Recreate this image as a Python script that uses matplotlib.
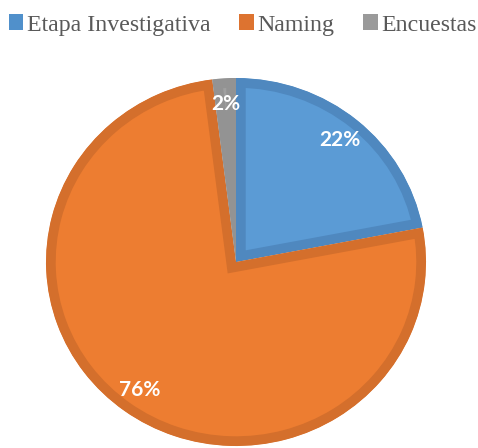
"""
Pie chart: distribución de tiempo por etapa (Etapa Investigativa / Naming / Encuestas).
"""
import matplotlib
matplotlib.use("Agg")
import matplotlib.pyplot as plt
from matplotlib.patches import Patch

# --- data ---
categories = ["Etapa Investigativa", "Naming", "Encuestas"]
shares = [22, 76, 2]

fill_colors = ["#5B9BD5", "#ED7D31", "#A0A0A0"]
edge_colors = ["#4F88BF", "#D46F2C", "#939393"]
legend_colors = ["#5090CB", "#DD7330", "#9A9A9A"]

W, H = 478, 448
SQUASH = 190 / 184  # reference pie is slightly flatter than round


def main():
    fig = plt.figure(figsize=(W / 100, H / 100), dpi=100)
    ax = fig.add_axes([0, 0, 1, 1])

    cx, cy = 236, (H - 262) * SQUASH
    wedges, _, autotexts = ax.pie(
        shares, startangle=90, counterclock=False,
        colors=fill_colors, radius=190, center=(cx, cy),
        autopct="%1.0f%%", pctdistance=0.86, frame=True,
        wedgeprops={"linewidth": 14, "joinstyle": "miter"},
        textprops={"color": "white", "fontsize": 15,
                   "fontweight": "bold", "family": "Lato"},
    )
    ax.set_xlim(0, W)
    ax.set_ylim(0, H * SQUASH)
    ax.set_aspect("auto")
    ax.axis("off")

    # darker inner border: stroke clipped to the wedge's own outline
    # (pie makes wedges with clip_on=False, so switch it back on)
    for w, ec in zip(wedges, edge_colors):
        w.set_edgecolor(ec)
        w.set_clip_on(True)
        w.set_clip_path(w)

    handles = [Patch(facecolor=c, edgecolor="none") for c in legend_colors]
    fig.legend(
        handles, categories, loc="center left",
        bbox_to_anchor=(9 / W, 1 - 25 / H), ncol=3, frameon=False,
        borderpad=0, borderaxespad=0, handlelength=0.6, handleheight=0.6,
        handletextpad=0.16, columnspacing=1.2,
        prop={"family": "Liberation Serif", "size": 17.2},
        labelcolor="#595959",
    )

    fig.savefig("out.png", dpi=100)
    plt.close(fig)


if __name__ == "__main__":
    main()
